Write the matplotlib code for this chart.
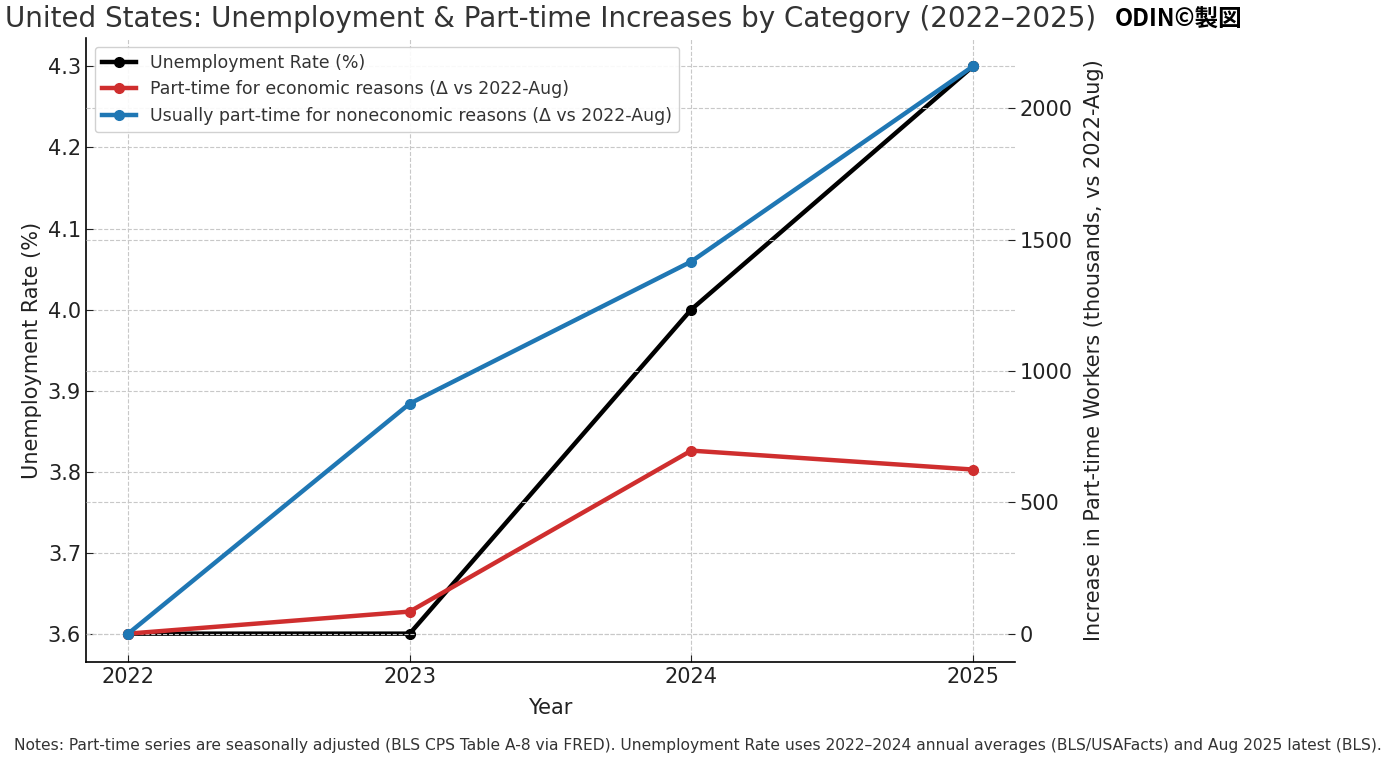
import matplotlib.pyplot as plt

years = [2022, 2023, 2024, 2025]
unemp_rate = [3.6, 3.6, 4.0, 4.3]
pt_economic = [0, 84, 697, 625]
pt_noneconomic = [0, 876, 1417, 2160]

title = "United States: Unemployment & Part-time Increases by Category (2022\u20132025)"
note = ("Notes: Part-time series are seasonally adjusted (BLS CPS Table A-8 via FRED). "
        "Unemployment Rate uses 2022\u20132024 annual averages (BLS/USAFacts) and Aug 2025 latest (BLS).")

plt.rcParams["font.family"] = ["DejaVu Sans", "Noto Sans CJK JP"]

fig = plt.figure(figsize=(13.95, 7.59), dpi=100)
ax1 = fig.add_axes([0.0616, 0.1278, 0.666, 0.822])
ax2 = ax1.twinx()

l1, = ax1.plot(years, unemp_rate, color="black", lw=3.2, marker="o", ms=7,
               label="Unemployment Rate (%)")
l2, = ax2.plot(years, pt_economic, color="#cf2e2e", lw=3.2, marker="o", ms=7,
               label="Part-time for economic reasons (\u0394 vs 2022-Aug)")
l3, = ax2.plot(years, pt_noneconomic, color="#1f77b4", lw=3.2, marker="o", ms=7,
               label="Usually part-time for noneconomic reasons (\u0394 vs 2022-Aug)")

ax1.set_xticks(years)
ax1.set_yticks([3.6, 3.7, 3.8, 3.9, 4.0, 4.1, 4.2, 4.3])
ax1.set_yticklabels(["3.6", "3.7", "3.8", "3.9", "4.0", "4.1", "4.2", "4.3"])
ax2.set_yticks([0, 500, 1000, 1500, 2000])

for ax in (ax1, ax2):
    ax.tick_params(direction="in", labelsize=15, colors="#222222", length=5)
    ax.spines["top"].set_visible(False)
    ax.spines["right"].set_visible(False)
ax2.spines["left"].set_visible(False)
ax2.spines["bottom"].set_visible(False)
ax1.spines["left"].set_linewidth(1.2)
ax1.spines["bottom"].set_linewidth(1.2)

ax1.grid(True, linestyle="--", color="#c8c8c8", lw=0.8)
ax2.grid(True, axis="y", linestyle="--", color="#c8c8c8", lw=0.8)

ax1.set_xlabel("Year", fontsize=15, color="#222222", labelpad=8)
ax1.set_ylabel("Unemployment Rate (%)", fontsize=15, color="#222222")
ax2.set_ylabel("Increase in Part-time Workers (thousands, vs 2022-Aug)", fontsize=15,
               color="#222222", labelpad=8)

ax1.set_title(title, fontsize=20, color="#333333", pad=8)
fig.text(0.799, 0.974, "ODIN\u00a9製図", fontsize=17, fontweight="bold", ha="left", va="center",
         family=["Noto Sans CJK JP", "DejaVu Sans"])

ax2.legend(handles=[l1, l2, l3], loc="upper left", fontsize=12.5, framealpha=0.9,
           labelcolor="#333333")

fig.text(0.5, 0.018, note, ha="center", va="center", fontsize=11.2, color="#333333")

fig.savefig("out.png", dpi=100)
